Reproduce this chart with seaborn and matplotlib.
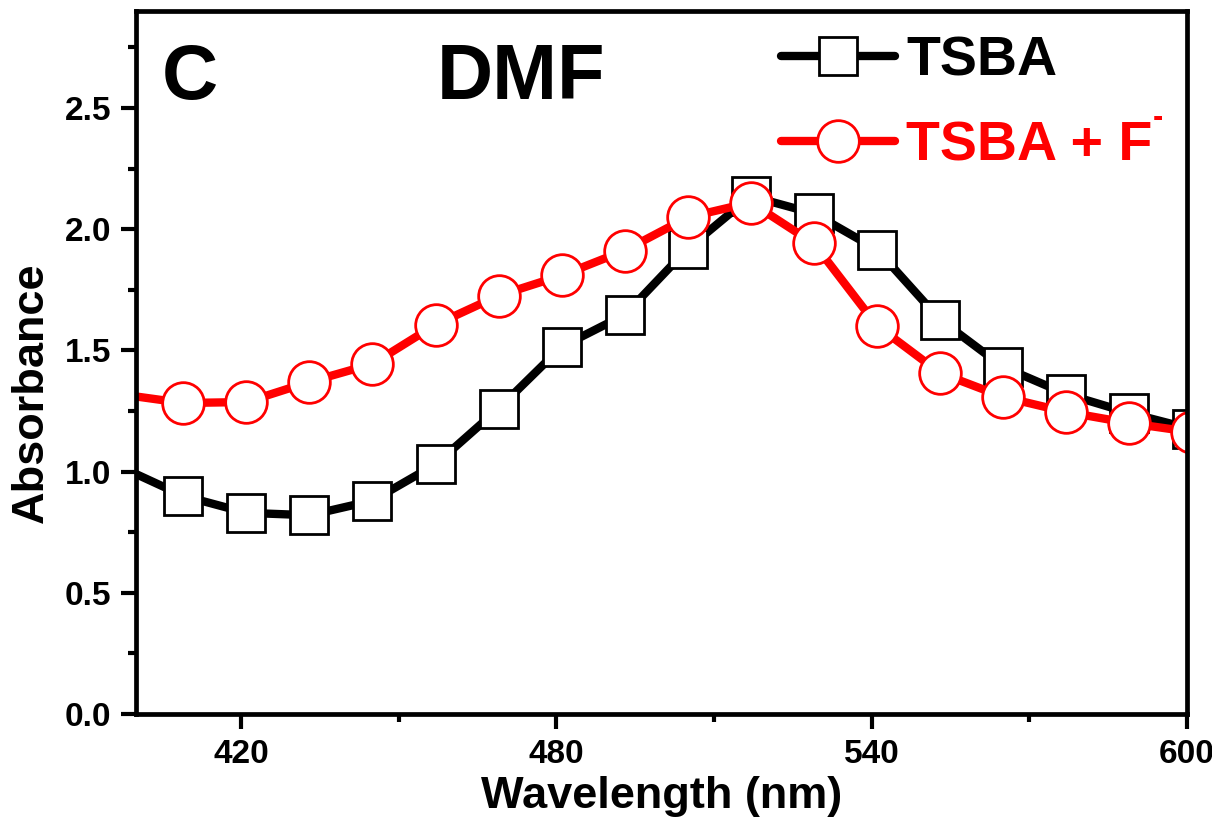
import matplotlib
matplotlib.use("Agg")
import matplotlib.pyplot as plt
import seaborn as sns
import pandas as pd
from matplotlib.ticker import MultipleLocator, FormatStrFormatter

# ---- data ----
wavelength = [400, 409, 421, 433, 445, 457, 469, 481, 493, 505, 517, 529, 541, 553, 565, 577, 589, 601]
tsba = [0.99, 0.90, 0.83, 0.82, 0.88, 1.03, 1.26, 1.515, 1.647, 1.92, 2.136, 2.065, 1.916, 1.627, 1.432, 1.32, 1.242, 1.175]
tsba_f = [1.31, 1.283, 1.287, 1.37, 1.444, 1.606, 1.726, 1.809, 1.912, 2.049, 2.11, 1.941, 1.602, 1.407, 1.308, 1.246, 1.20, 1.163]
series_names = ["TSBA", "TSBA + F"]
x_major = [420, 480, 540, 600]

sns.set_style("ticks")
plt.rcParams["font.family"] = ["Liberation Sans", "DejaVu Sans"]
plt.rcParams["font.weight"] = "bold"
plt.rcParams["text.color"] = "black"
plt.rcParams["axes.labelcolor"] = "black"
plt.rcParams["xtick.color"] = "black"
plt.rcParams["ytick.color"] = "black"

df = pd.DataFrame({"wl": wavelength, "a": tsba, "b": tsba_f})

fig = plt.figure(figsize=(12.12, 8.27), dpi=100)
ax = fig.add_axes([0.1122, 0.1366, 0.8672, 0.8501])

sns.lineplot(data=df, x="wl", y="a", ax=ax, color="black", lw=6,
             marker="s", markersize=27, markerfacecolor="white",
             markeredgecolor="black", markeredgewidth=2,
             markevery=list(range(1, len(wavelength))), label=series_names[0])
sns.lineplot(data=df, x="wl", y="b", ax=ax, color="#ff0000", lw=6,
             marker="o", markersize=30, markerfacecolor="white",
             markeredgecolor="#ff0000", markeredgewidth=2,
             markevery=list(range(1, len(wavelength))), label=series_names[1])

ax.set_xlim(400, 600)
ax.set_ylim(0, 2.9)
ax.set_xticks(x_major)
ax.xaxis.set_minor_locator(MultipleLocator(30))
ax.yaxis.set_major_locator(MultipleLocator(0.5))
ax.yaxis.set_minor_locator(MultipleLocator(0.25))
ax.yaxis.set_major_formatter(FormatStrFormatter("%.1f"))

for s in ax.spines.values():
    s.set_linewidth(3.4)
    s.set_color("black")
ax.tick_params(axis="both", which="major", direction="out", length=11, width=3,
               labelsize=24, pad=7, top=False, right=False, colors="black")
ax.tick_params(axis="both", which="minor", direction="out", length=6, width=3,
               top=False, right=False, colors="black")
for lab in ax.get_xticklabels() + ax.get_yticklabels():
    lab.set_fontweight("bold")

ax.set_xlabel("Wavelength (nm)", fontsize=32.5, fontweight="bold", labelpad=4)
ax.set_ylabel("Absorbance", fontsize=32.5, fontweight="bold")
ax.yaxis.set_label_coords(-0.080, 0.457)

ax.text(0.0514, 0.875, "C", transform=ax.transAxes, fontsize=56,
        fontweight="bold", ha="center", va="baseline", color="black")
ax.text(0.366, 0.875, "DMF", transform=ax.transAxes, fontsize=56,
        fontweight="bold", ha="center", va="baseline", color="black")

leg = ax.legend(loc="upper left", bbox_to_anchor=(0.6444, 0.957),
                bbox_transform=fig.transFigure, frameon=False, fontsize=40,
                handlelength=2.05, handletextpad=0.2, labelspacing=0.6,
                borderpad=0, borderaxespad=0, markerscale=1.0)
for txt, col in zip(leg.get_texts(), ["black", "#ff0000"]):
    txt.set_color(col)
    txt.set_fontweight("bold")

# superscript charge sign of F-
fig.canvas.draw()
bb = leg.get_texts()[1].get_window_extent()
fig.text((bb.x1 + 5) / fig.bbox.width, 1 - 118 / 827, "-", fontsize=22,
         fontweight="bold", color="#ff0000", ha="center", va="center")

fig.savefig("out.png", dpi=100)
